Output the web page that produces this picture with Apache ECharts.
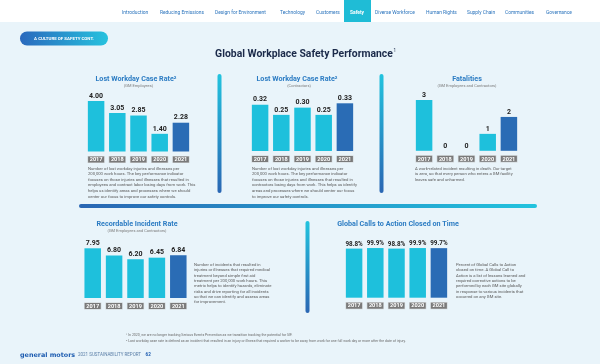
<!DOCTYPE html>
<html><head><meta charset="utf-8">
<script src="https://cdn.jsdelivr.net/npm/echarts@6/dist/echarts.min.js"></script>
<style>html,body{margin:0;padding:0;background:#e9f4fa;}#c{width:600px;height:364px;}</style>
</head><body><div id="c"></div>
<script>
const years = ['2017','2018','2019','2020','2021'];
const lwcrEmployees = [4.00, 3.05, 2.85, 1.40, 2.28];
const lwcrContractors = [0.32, 0.25, 0.30, 0.25, 0.33];
const fatalities = [3, 0, 0, 1, 2];
const recordableRate = [7.95, 6.80, 6.20, 6.45, 6.84];
const callsClosed = [98.8, 99.9, 98.8, 99.9, 99.7];
const navItems = ['Introduction','Reducing Emissions','Design for Environment','Technology','Customers','Safety','Diverse Workforce','Human Rights','Supply Chain','Communities','Governance'];

const CYAN = '#1ec0dc', DARK = '#2a6cb5', TITLE = '#2c7cc3', GRAYTXT = '#5a5a5a';
const FONT = 'Roboto, "Liberation Sans", sans-serif';

const chart = echarts.init(document.getElementById('c'));

const panels = [
  {data: lwcrEmployees, left: 85.5, top: 101, width: 106, height: 50.5, max: 4.00, fmt: v => v.toFixed(2)},
  {data: lwcrContractors, left: 249.5, top: 103.3, width: 106, height: 47.7, max: 0.33, fmt: v => v.toFixed(2)},
  {data: fatalities, left: 413.5, top: 100, width: 106, height: 50.8, max: 3, fmt: v => String(v)},
  {data: recordableRate, left: 82, top: 248.3, width: 107, height: 49.7, max: 7.95, fmt: v => v.toFixed(2)},
  {data: callsClosed, left: 343.5, top: 248, width: 106, height: 49.7, max: 100, fmt: v => v.toFixed(1) + '%'}
];

const grids = [], xAxes = [], yAxes = [], series = [];
panels.forEach((p, i) => {
  grids.push({left: p.left, top: p.top, width: p.width, height: p.height, containLabel: false});
  xAxes.push({
    type: 'category', gridIndex: i, data: years,
    axisLine: {show: false}, axisTick: {show: false},
    axisLabel: {
      show: true, margin: 5, color: '#ffffff', fontSize: 5.6, fontWeight: 'bold', fontFamily: FONT,
      backgroundColor: '#7a7a7a', borderColor: '#cfd3d6', borderWidth: 0.6,
      width: 16, height: 6, lineHeight: 6.6, align: 'center', padding: [0, 0, 0, 0]
    }
  });
  yAxes.push({type: 'value', gridIndex: i, min: 0, max: p.max, show: false, splitLine: {show: false}});
  series.push({
    type: 'bar', xAxisIndex: i, yAxisIndex: i, barWidth: 16.5,
    data: p.data.map((v, k) => ({value: v, itemStyle: {color: k === 4 ? DARK : CYAN}})),
    label: {show: true, position: 'top', distance: 1.5, color: '#222', fontSize: i === 4 ? 6.3 : 7, fontWeight: 'bold', fontFamily: FONT,
      formatter: (o) => p.fmt(o.value)},
    silent: true, animation: false
  });
});

function txt(x, y, s, opt) {
  return {type: 'text', x: x, y: y, silent: true,
    style: Object.assign({text: s, fontFamily: FONT, fontSize: 4.2, fill: GRAYTXT, textVerticalAlign: 'middle'}, opt || {})};
}
function para(x, y0, lines, lh, opt) {
  return lines.map((l, k) => txt(x, y0 + k * lh, l, opt));
}
function vgrad(x, y, w, h) {
  return {type: 'rect', shape: {x: x, y: y, width: w, height: h, r: w / 2}, silent: true,
    style: {fill: new echarts.graphic.LinearGradient(0, 0, 0, 1, [{offset: 0, color: '#22c3de'}, {offset: 1, color: '#2a66b3'}])}};
}

const graphics = [];
graphics.push({type: 'rect', shape: {x: 0, y: 0, width: 600, height: 22}, style: {fill: '#ffffff'}, silent: true});
const navX = [122, 160, 215, 280, 316, 350, 375, 426, 467, 505, 546];
graphics.push({type: 'rect', shape: {x: 344, y: 0, width: 27, height: 22}, style: {fill: '#1fbcd6'}, silent: true});
navItems.forEach((n, k) => {
  graphics.push(txt(navX[k], 12.5, n, {fontSize: 4.9, fill: n === 'Safety' ? '#ffffff' : '#2b74bd', fontWeight: n === 'Safety' ? 'bold' : 'normal'}));
});
graphics.push({type: 'rect', shape: {x: 20, y: 31.5, width: 88, height: 14, r: 7}, silent: true,
  style: {fill: new echarts.graphic.LinearGradient(0, 0, 1, 0, [{offset: 0, color: '#2a69bd'}, {offset: 1, color: '#27c2de'}])}});
graphics.push(txt(64, 38.7, 'A CULTURE OF SAFETY CONT.', {fontSize: 4.4, fill: '#ffffff', fontWeight: 'bold', textAlign: 'center'}));
graphics.push(txt(304, 54.5, 'Global Workplace Safety Performance', {fontSize: 10.4, fill: '#1b2a4a', fontWeight: 'bold', textAlign: 'center'}));
graphics.push(txt(393.5, 50.5, '1', {fontSize: 4.5, fill: '#1b2a4a'}));

function ptitle(cx, y, s) {
  return [txt(cx, y, s, {fontSize: 7.2, fill: TITLE, fontWeight: 'bold', textAlign: 'center'})];
}
graphics.push(...ptitle(136, 79.3, 'Lost Workday Case Rate²'));
graphics.push(txt(138.5, 85.5, '(GM Employees)', {fontSize: 4, fill: '#7a7a7a', textAlign: 'center'}));
graphics.push(...ptitle(297, 79.3, 'Lost Workday Case Rate²'));
graphics.push(txt(299, 85.5, '(Contractors)', {fontSize: 4, fill: '#7a7a7a', textAlign: 'center'}));
graphics.push(...ptitle(467, 79.3, 'Fatalities'));
graphics.push(txt(467, 85.5, '(GM Employees and Contractors)', {fontSize: 4, fill: '#7a7a7a', textAlign: 'center'}));
graphics.push(...ptitle(137, 224.3, 'Recordable Incident Rate'));
graphics.push(txt(137, 231, '(GM Employees and Contractors)', {fontSize: 4, fill: '#7a7a7a', textAlign: 'center'}));
graphics.push(...ptitle(398, 224.3, 'Global Calls to Action Closed on Time'));

graphics.push(...para(88, 168.5, [
  'Number of lost workday injuries and illnesses per',
  '200,000 work hours. The key performance indicator',
  'focuses on those injuries and illnesses that resulted in',
  'employees and contract labor losing days from work. This',
  'helps us identify areas and processes where we should',
  'center our focus to improve our safety controls.'], 5.6));
graphics.push(...para(252, 168.5, [
  'Number of lost workday injuries and illnesses per',
  '200,000 work hours. The key performance indicator',
  'focuses on those injuries and illnesses that resulted in',
  'contractors losing days from work. This helps us identify',
  'areas and processes where we should center our focus',
  'to improve our safety controls.'], 5.6));
graphics.push(...para(415, 168.5, [
  'A work-related incident resulting in death. Our target',
  'is zero, so that every person who enters a GM facility',
  'leaves safe and unharmed.'], 5.6));
graphics.push(...para(194, 265, [
  'Number of incidents that resulted in',
  'injuries or illnesses that required medical',
  'treatment beyond simple first aid',
  'treatment per 200,000 work hours. This',
  'metric helps to identify hazards, eliminate',
  'risks and drive reporting for all incidents',
  'so that we can identify and assess areas',
  'for improvement.'], 5.3));
graphics.push(...para(456, 265, [
  'Percent of Global Calls to Action',
  'closed on time. A Global Call to',
  'Action is a list of lessons learned and',
  'required corrective actions to be',
  'performed by each GM site globally',
  'in response to various incidents that',
  'occurred on any GM site.'], 5.3));

graphics.push(vgrad(217.5, 74, 4, 119));
graphics.push(vgrad(379.5, 74, 4, 119));
graphics.push(vgrad(305.5, 221, 4, 92));
graphics.push({type: 'rect', shape: {x: 79, y: 204, width: 458, height: 4, r: 2}, silent: true,
  style: {fill: new echarts.graphic.LinearGradient(0, 0, 1, 0, [{offset: 0, color: '#2a66b3'}, {offset: 1, color: '#22c3de'}])}});

graphics.push(txt(126, 335.3, '¹ In 2020, we are no longer tracking Serious Events Prevention as we transition tracking the potential for SIF.', {fontSize: 3.5, fill: '#6a6a6a'}));
graphics.push(txt(126, 341.6, '² Lost workday case rate is defined as an incident that resulted in an injury or illness that required a worker to be away from work for one full work day or more after the date of injury.', {fontSize: 3.5, fill: '#6a6a6a'}));
graphics.push(txt(20, 355, 'general motors', {fontSize: 6.4, fill: '#1d5cb0', fontWeight: 'bold', fontFamily: '"DejaVu Sans", sans-serif'}));
graphics.push(txt(78, 355, '2021 SUSTAINABILITY REPORT', {fontSize: 4.5, fill: '#5b7fa8'}));
graphics.push(txt(145.5, 355, '62', {fontSize: 4.6, fill: '#1d5cb0', fontWeight: 'bold'}));

chart.setOption({
  animation: false,
  backgroundColor: '#e9f4fa',
  grid: grids, xAxis: xAxes, yAxis: yAxes, series: series,
  graphic: graphics
});
</script></body></html>
